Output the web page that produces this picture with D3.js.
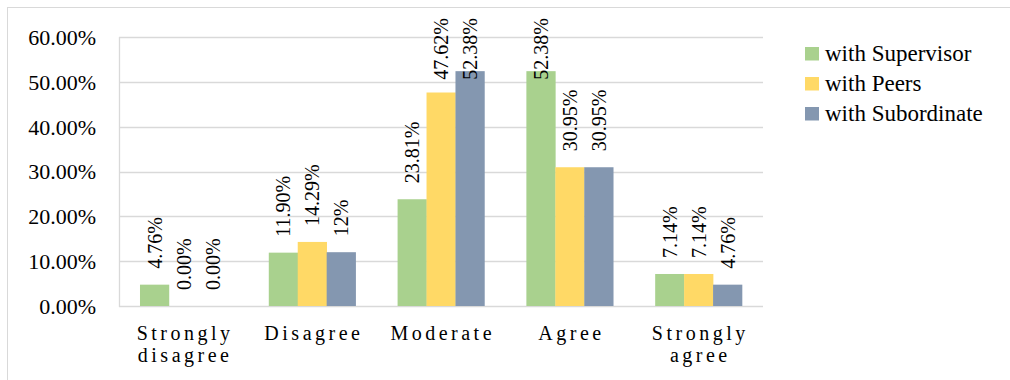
<!DOCTYPE html>
<html>
<head>
<meta charset="utf-8">
<script src="https://cdn.jsdelivr.net/npm/d3@7"></script>
<style>
  html, body { margin: 0; padding: 0; background: #fff; }
  svg { display: block; font-family: 'Times New Roman'; }
  svg text { font-family: 'Times New Roman'; }
</style>
</head>
<body>
<svg id="chart" width="1010" height="380"></svg>
<script>
// Response categories (multi-line labels split on "\n")
const categories = ["Strongly\ndisagree", "Disagree", "Moderate", "Agree", "Strongly\nagree"];
const seriesNames = ["with Supervisor", "with Peers", "with Subordinate"];
const supervisor  = [4.76, 11.90, 23.81, 52.38, 7.14];
const peers       = [0.00, 14.29, 47.62, 30.95, 7.14];
const subordinate = [0.00, 12.00, 52.38, 30.95, 4.76];
const supervisorLabels  = ["4.76%", "11.90%", "23.81%", "52.38%", "7.14%"];
const peersLabels       = ["0.00%", "14.29%", "47.62%", "30.95%", "7.14%"];
const subordinateLabels = ["0.00%", "12%", "52.38%", "30.95%", "4.76%"];
const yTicks = [0, 10, 20, 30, 40, 50, 60];
const colors = ["#a9d18e", "#ffd966", "#8497b0"];

const series = [
  { name: seriesNames[0], values: supervisor,  labels: supervisorLabels,  color: colors[0] },
  { name: seriesNames[1], values: peers,       labels: peersLabels,       color: colors[1] },
  { name: seriesNames[2], values: subordinate, labels: subordinateLabels, color: colors[2] }
];

const svg = d3.select("#chart");

// outer chart frame
svg.append("rect")
  .attr("x", 7.5).attr("y", 7.5)
  .attr("width", 1010).attr("height", 380)
  .attr("fill", "none").attr("stroke", "#d9d9d9").attr("stroke-width", 1);

const plot = { left: 119, right: 763, top: 37, bottom: 306 };

const x = d3.scaleBand().domain(d3.range(categories.length))
  .range([plot.left, plot.right]).paddingInner(0).paddingOuter(0);
const barW = x.bandwidth() / 4.45;
const xs = d3.scaleBand().domain(d3.range(series.length))
  .range([0, barW * 3]);
const y = d3.scaleLinear().domain([0, 60]).range([plot.bottom, plot.top]);

// gridlines
svg.append("g").selectAll("line").data(yTicks).join("line")
  .attr("x1", plot.left).attr("x2", plot.right)
  .attr("y1", d => Math.round(y(d)) + 0.5).attr("y2", d => Math.round(y(d)) + 0.5)
  .attr("stroke", "#d9d9d9").attr("stroke-width", 1.3);

// vertical axis line
svg.append("line")
  .attr("x1", plot.left + 0.5).attr("x2", plot.left + 0.5)
  .attr("y1", plot.top).attr("y2", plot.bottom + 1)
  .attr("stroke", "#d9d9d9").attr("stroke-width", 1.3);

// y tick labels
svg.append("g").selectAll("text").data(yTicks).join("text")
  .attr("x", 96)
  .attr("y", d => y(d))
  .attr("text-anchor", "end")
  .attr("dy", "0.36em")
  .attr("font-size", 22)
  .text(d => d3.format(".2f")(d) + "%");

// bars
const groups = svg.append("g").selectAll("g").data(series).join("g")
  .attr("fill", d => d.color);
groups.each(function(s, si) {
  d3.select(this).selectAll("rect").data(s.values).join("rect")
    .attr("x", (v, i) => x(i) + (x.bandwidth() - barW * 3) / 2 + xs(si))
    .attr("width", barW + 0.3)
    .attr("y", v => y(v))
    .attr("height", v => y(0) - y(v));
});

// data labels, rotated, placed above each bar and kept inside the chart
const labelLayer = svg.append("g");
series.forEach((s, si) => {
  s.values.forEach((v, i) => {
    const cx = x(i) + (x.bandwidth() - barW * 3) / 2 + xs(si) + barW / 2;
    const t = labelLayer.append("text")
      .attr("text-anchor", "start")
      .attr("dy", "0.36em")
      .attr("font-size", 20)
      .text(s.labels[i]);
    const len = t.node().getComputedTextLength();
    let by = y(v) - 16;
    if (by - len < 18) by = 18 + len;
    t.attr("transform", `translate(${cx},${by}) rotate(-90)`);
  });
});

// category labels (letter-spaced, two lines where needed)
const catG = svg.append("g").selectAll("g").data(categories).join("g")
  .attr("transform", (d, i) => `translate(${x(i) + x.bandwidth() / 2 + 1.7},340)`);
catG.each(function(d) {
  const lines = d.split("\n");
  d3.select(this).selectAll("text").data(lines).join("text")
    .attr("text-anchor", "middle")
    .attr("y", (l, k) => k * 22)
    .attr("font-size", 20)
    .attr("letter-spacing", 3.5)
    .text(l => l);
});

// legend
const legend = svg.append("g").selectAll("g").data(series).join("g")
  .attr("transform", (d, i) => `translate(805,${47 + i * 30})`);
legend.append("rect")
  .attr("width", 14).attr("height", 13.5)
  .attr("fill", d => d.color);
legend.append("text")
  .attr("x", 20).attr("y", 14)
  .attr("font-size", 23)
  .text(d => d.name);
</script>
</body>
</html>
